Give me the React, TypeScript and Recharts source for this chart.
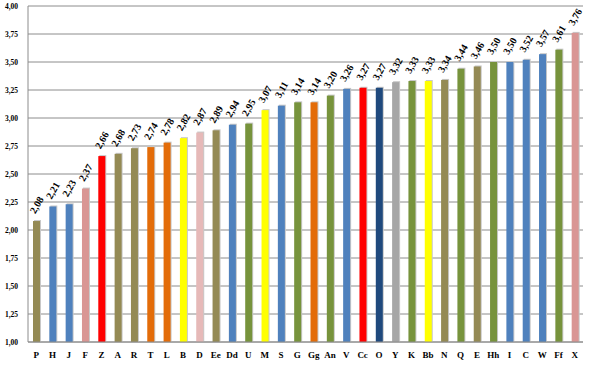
import React from 'react';
import { BarChart, Bar, XAxis, YAxis, CartesianGrid, Cell, LabelList } from 'recharts';

const categories = ['P','H','J','F','Z','A','R','T','L','B','D','Ee','Dd','U','M','S','G','Gg','An','V','Cc','O','Y','K','Bb','N','Q','E','Hh','I','C','W','Ff','X'];
const values = [2.08,2.21,2.23,2.37,2.66,2.68,2.73,2.74,2.78,2.82,2.87,2.89,2.94,2.95,3.07,3.11,3.14,3.14,3.20,3.26,3.27,3.27,3.32,3.33,3.33,3.34,3.44,3.46,3.50,3.50,3.52,3.57,3.61,3.76];
const OL = '#948A54', BL = '#4F81BD', PK = '#D99694', RD = '#FF0000', OR = '#E36C09', YE = '#FFFF00', LP = '#E6B9B8', GR = '#77933C', DB = '#1F497D', GY = '#A6A6A6';
const colors = [OL,BL,BL,PK,RD,OL,OL,OR,OR,YE,LP,OL,BL,GR,YE,BL,GR,OR,GR,BL,RD,DB,GY,GR,YE,OL,GR,OL,GR,BL,BL,BL,GR,PK];
const yTicks = [1,1.25,1.5,1.75,2,2.25,2.5,2.75,3,3.25,3.5,3.75,4];

const data = categories.map((c, i) => ({ name: c, value: values[i] }));
const fmt = (v: number) => v.toFixed(2).replace('.', ',');

const ShadowBar = (props: any) => {
  const { x, y, width, height, fill } = props;
  if (height <= 0) return null;
  return (
    <g>
      <rect x={x + 1} y={y - 1} width={width} height={height + 1} fill="#c8c8c8" />
      <rect x={x} y={y} width={width} height={height} fill={fill} />
    </g>
  );
};

const renderValueLabel = (props: any) => {
  const vb = props.viewBox || {};
  const x = props.x ?? vb.x;
  const y = props.y ?? vb.y;
  const width = props.width ?? vb.width;
  const value = props.value;
  const cx = x + width / 2;
  const cy = y - 16;
  return (
    <g transform={`translate(${cx},${cy}) rotate(-60)`}>
      <text
        x={0}
        y={3.5}
        textAnchor="middle"
        fontFamily="'Liberation Serif', serif"
        fontWeight="bold"
        fontSize={10}
        fill="#000"
      >
        {fmt(value)}
      </text>
    </g>
  );
};

export default function App() {
  return (
    <div style={{ position: 'absolute', left: 0, top: 0, background: '#fff' }}>
      <BarChart width={591} height={365} data={data} margin={{ top: 6, right: 8, left: 0, bottom: 0 }}>
        <CartesianGrid vertical={false} stroke="#8c8c8c" strokeWidth={1} />
        <XAxis
          dataKey="name"
          interval={0}
          height={23}
          tickLine={false}
          axisLine={{ stroke: '#8c8c8c' }}
          tick={{ fontFamily: "'Liberation Serif', serif", fontWeight: 'bold', fontSize: 9, fill: '#000' }}
          tickMargin={4}
        />
        <YAxis
          width={28}
          domain={[1, 4]}
          ticks={yTicks}
          tickFormatter={fmt}
          tickLine={false}
          axisLine={{ stroke: '#8c8c8c' }}
          tick={{ fontFamily: "'Liberation Serif', serif", fontWeight: 'bold', fontSize: 7.5, fill: '#000' }}
          tickMargin={4}
        />
        <Bar dataKey="value" barSize={7} isAnimationActive={false} shape={<ShadowBar />}>
          {data.map((d, i) => (
            <Cell key={d.name} fill={colors[i]} />
          ))}
          <LabelList dataKey="value" content={renderValueLabel} />
        </Bar>
      </BarChart>
    </div>
  );
}
